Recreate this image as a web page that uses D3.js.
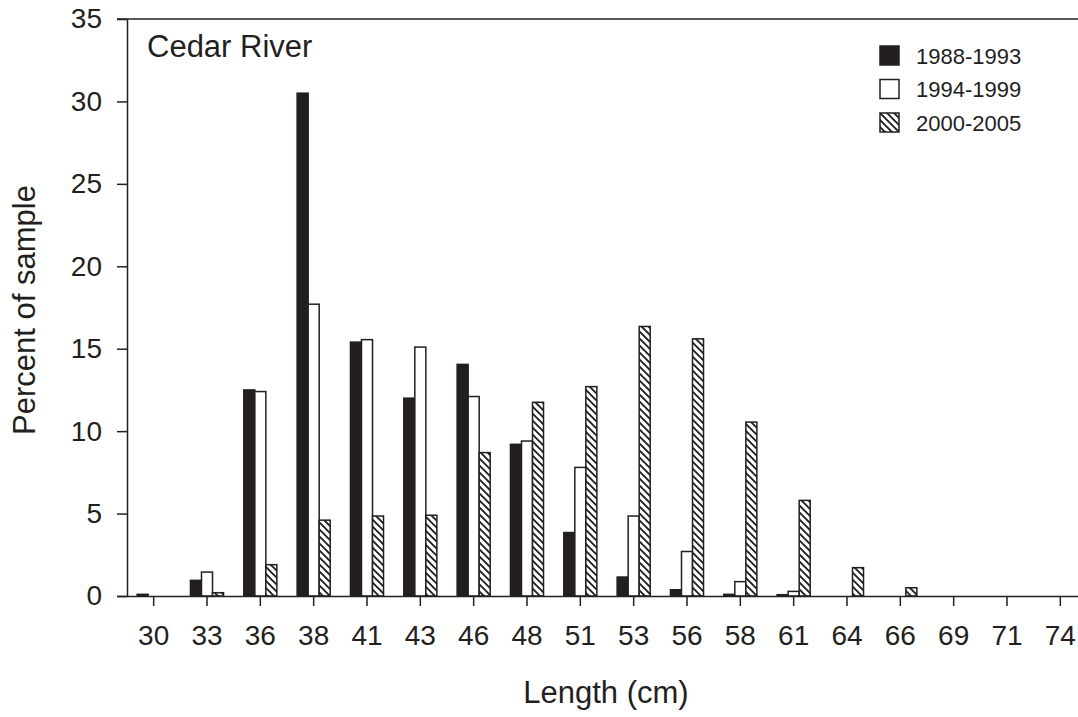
<!DOCTYPE html>
<html>
<head>
<meta charset="utf-8">
<script src="https://cdn.jsdelivr.net/npm/d3@7"></script>
<style>
  html, body { margin: 0; padding: 0; background: #fff; }
  svg { display: block; font-family: "Liberation Sans", Arial, sans-serif; }
</style>
</head>
<body>
<svg id="chart" width="1078" height="717"></svg>
<script>
const categories = ["30","33","36","38","41","43","46","48","51","53","56","58","61","64","66","69","71","74"];
const seriesNames = ["1988-1993", "1994-1999", "2000-2005"];
const values1988 = [0.1, 0.95, 12.5, 30.5, 15.4, 12.0, 14.05, 9.2, 3.85, 1.15, 0.38, 0.1, 0.08, 0, 0, 0, 0, 0];
const values1994 = [0, 1.45, 12.4, 17.7, 15.55, 15.1, 12.1, 9.4, 7.8, 4.85, 2.7, 0.87, 0.28, 0, 0, 0, 0, 0];
const values2000 = [0, 0.2, 1.9, 4.6, 4.85, 4.9, 8.7, 11.75, 12.7, 16.35, 15.6, 10.55, 5.8, 1.72, 0.5, 0, 0, 0];
const yTicks = [0, 5, 10, 15, 20, 25, 30, 35];

(function () {
const ink = "#231f20";
const svg = d3.select("#chart");

const defs = svg.append("defs");
const pat = defs.append("pattern")
  .attr("id", "hatch")
  .attr("patternUnits", "userSpaceOnUse")
  .attr("width", 7).attr("height", 7);
pat.append("rect").attr("width", 7).attr("height", 7).attr("fill", "#fff");
pat.append("path")
  .attr("d", "M-1,-1 L8,8 M-1,6 L1,8 M6,-1 L8,1")
  .attr("stroke", ink).attr("stroke-width", 1.9);

const axisX = 127, rightX = 1087, topY = 19, baseY = 596;

const x = d3.scaleBand().domain(categories).range([axisX, rightX]).paddingInner(0.38).paddingOuter(0.19);
const xs = d3.scaleBand().domain(seriesNames).range([0, x.bandwidth()]);
const y = d3.scaleLinear().domain([0, 35]).range([baseY, topY]);

const seriesValues = [values1988, values1994, values2000];
const fills = [ink, "#fff", "url(#hatch)"];

// bars
seriesNames.forEach((name, si) => {
  const data = categories.map((c, i) => ({c, v: seriesValues[si][i]})).filter(d => d.v > 0);
  svg.append("g").selectAll("rect").data(data).join("rect")
    .attr("x", d => x(d.c) + xs(name))
    .attr("width", xs.bandwidth())
    .attr("y", d => y(d.v))
    .attr("height", d => y(0) - y(d.v))
    .attr("fill", fills[si])
    .attr("stroke", ink)
    .attr("stroke-width", 1.5);
});

// top frame line
svg.append("line")
  .attr("x1", axisX - 10).attr("x2", 1078)
  .attr("y1", y(35)).attr("y2", y(35))
  .attr("stroke", ink).attr("stroke-width", 1.5);

// y axis
const yAxis = svg.append("g")
  .attr("transform", `translate(${axisX},0)`)
  .call(d3.axisLeft(y).tickValues(yTicks).tickSize(10).tickPadding(15).tickSizeOuter(0));
yAxis.selectAll("path, line").attr("stroke", ink).attr("stroke-width", 1.5);
yAxis.selectAll("text").attr("font-size", 28).attr("fill", ink).attr("font-family", "Liberation Sans, Arial, sans-serif");

// x axis
const xAxis = svg.append("g")
  .attr("transform", `translate(0,${baseY})`)
  .call(d3.axisBottom(x).tickSize(10).tickPadding(19).tickSizeOuter(0));
xAxis.select("path").attr("d", `M${axisX - 10},0.5H${rightX}`);
xAxis.selectAll("path, line").attr("stroke", ink).attr("stroke-width", 1.5);
xAxis.selectAll("text").attr("font-size", 28).attr("fill", ink).attr("font-family", "Liberation Sans, Arial, sans-serif");

// axis titles
svg.append("text")
  .attr("x", 606).attr("y", 703)
  .attr("text-anchor", "middle")
  .attr("font-size", 31).attr("fill", ink)
  .text("Length (cm)");
svg.append("text")
  .attr("transform", "translate(35,310) rotate(-90)")
  .attr("text-anchor", "middle")
  .attr("font-size", 31).attr("fill", ink)
  .text("Percent of sample");

// panel title
svg.append("text")
  .attr("x", 147).attr("y", 57)
  .attr("font-size", 31).attr("fill", ink)
  .text("Cedar River");

// legend
const legend = svg.append("g").attr("transform", "translate(880,46)");
seriesNames.forEach((name, i) => {
  const g = legend.append("g").attr("transform", `translate(0,${i * 33.5})`);
  g.append("rect").attr("x", 0).attr("y", 0).attr("width", 19).attr("height", 19)
    .attr("fill", fills[i]).attr("stroke", ink).attr("stroke-width", 1.5);
  g.append("text").attr("x", 36).attr("y", 10).attr("dy", "0.36em")
    .attr("font-size", 22).attr("fill", ink).text(name);
});
})();
</script>
</body>
</html>
